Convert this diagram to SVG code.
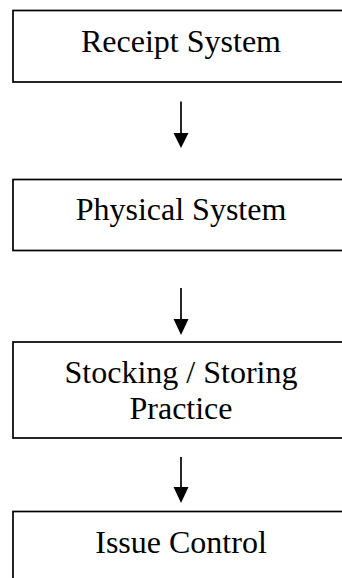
<svg xmlns="http://www.w3.org/2000/svg" width="342" height="578" viewBox="0 0 342 578">
<style>
.box{fill:#fff;stroke:#000;stroke-width:1.7}
.lbl{font-family:"Liberation Serif","Times New Roman",serif;font-size:32px;fill:#000;text-anchor:middle}
.conn{stroke:#000;stroke-width:1.7;fill:none}
.head{fill:#000;stroke:none}
</style>
<rect width="342" height="578" fill="#fff"/>
<g id="node-receipt">
<rect class="box" x="13" y="10.5" width="336" height="71.5"/>
<text class="lbl" x="181" y="52">Receipt System</text>
</g>
<g id="node-physical">
<rect class="box" x="13" y="179.5" width="336" height="71"/>
<text class="lbl" x="181" y="220">Physical System</text>
</g>
<g id="node-stocking">
<rect class="box" x="13" y="342" width="336" height="96"/>
<text class="lbl" x="181" y="383">Stocking / Storing</text>
<text class="lbl" x="181" y="419">Practice</text>
</g>
<g id="node-issue">
<rect class="box" x="13" y="511.5" width="336" height="80"/>
<text class="lbl" x="181" y="553">Issue Control</text>
</g>
<g id="connectors">
<line class="conn" x1="181" y1="101.5" x2="181" y2="134"/>
<polygon class="head" points="173.5,133 188.5,133 181,148"/>
<line class="conn" x1="181" y1="288" x2="181" y2="320"/>
<polygon class="head" points="173.5,319 188.5,319 181,335"/>
<line class="conn" x1="181" y1="457" x2="181" y2="488"/>
<polygon class="head" points="173.5,487 188.5,487 181,503"/>
</g>
</svg>
